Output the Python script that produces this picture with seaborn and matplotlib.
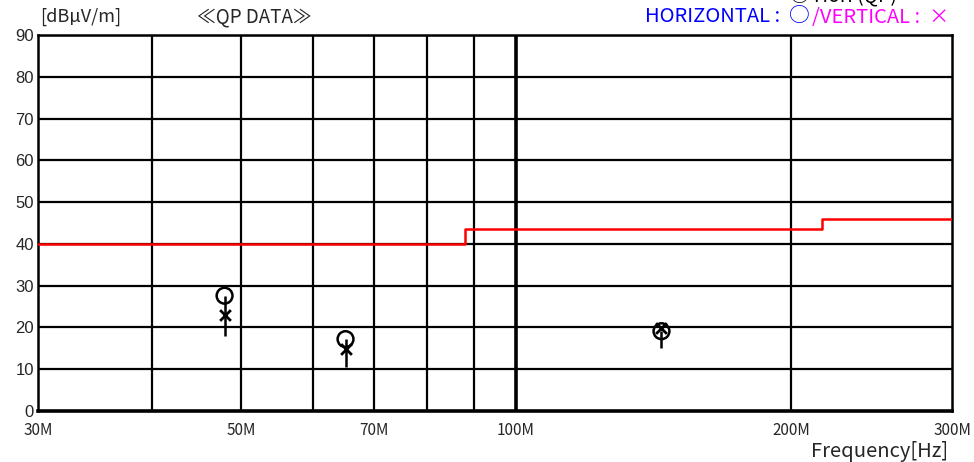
import matplotlib
matplotlib.use("Agg")
import matplotlib.pyplot as plt
import seaborn as sns
import pandas as pd
import numpy as np

# ---- data ----
limit_freq = [30, 88, 216, 300]          # MHz
limit_level = [40.0, 43.5, 46.0, 46.0]   # dBuV/m

peak_freq = [48.0, 65.1, 144.3]          # MHz
horizontal_qp = [27.6, 17.2, 19.1]       # circle
vertical_qp = [23.0, 14.8, 19.9]         # cross
stick_bottom = [18.0, 10.6, 15.1]

xticks = [30, 50, 70, 100, 200, 300]
xtick_labels = ["30M", "50M", "70M", "100M", "200M", "300M"]
xgrid = [40, 50, 60, 70, 80, 90, 200]
yticks = [0, 10, 20, 30, 40, 50, 60, 70, 80, 90]

sns.set_theme(style="white")
plt.rcParams['font.family'] = ['Noto Sans CJK JP', 'DejaVu Sans']

fig = plt.figure(figsize=(9.74, 4.62), dpi=100)
ax = fig.add_axes([38/974, 1-411/462, (952-38)/974, (411-35)/462])

ax.set_xscale("log")
ax.set_xlim(30, 300)
ax.set_ylim(0, 90)

# grid
for y in yticks[1:]:
    ax.axhline(y, color="black", lw=1.6, zorder=1)
for x in xgrid:
    ax.axvline(x, color="black", lw=1.6, zorder=1)
ax.axvline(100, color="black", lw=2.6, zorder=1)

# limit line
lim_df = pd.DataFrame({"f": limit_freq, "l": limit_level})
sns.lineplot(data=lim_df, x="f", y="l", ax=ax, color="#ff0000", lw=1.8,
             drawstyle="steps-post", sort=False, zorder=3)

# sticks and markers
ax.vlines(peak_freq, stick_bottom, horizontal_qp, color="black", lw=1.8, zorder=4)
pk = pd.DataFrame({"f": peak_freq, "h": horizontal_qp, "v": vertical_qp})
sns.scatterplot(data=pk, x="f", y="h", ax=ax, marker="o", s=130,
                facecolor="none", edgecolor="black", linewidth=1.8, zorder=5)
sns.scatterplot(data=pk, x="f", y="v", ax=ax, marker="x", s=60,
                color="black", linewidth=2.0, zorder=5)

ax.set_xlabel("")
ax.set_ylabel("")
ax.set_xticks(xticks)
ax.set_xticklabels(xtick_labels, fontsize=11)
ax.xaxis.set_minor_locator(matplotlib.ticker.NullLocator())
ax.set_yticks(yticks)
ax.set_yticklabels([str(v) for v in yticks], fontsize=12, family="Liberation Sans")
ax.tick_params(axis="x", length=0, pad=8)
ax.tick_params(axis="y", length=0, pad=3)

for s in ax.spines.values():
    s.set_color("black")
    s.set_linewidth(1.8)
ax.spines["bottom"].set_linewidth(2.6)

# texts
fig.text(40/974, 1-17/462, "[dBµV/m]", fontsize=13, va="center", ha="left")
fig.text(197/974, 1-17/462, "≪QP DATA≫", fontsize=13.5, va="center", ha="left")
fig.text(645/974, 1-17/462, "HORIZONTAL :", fontsize=14.5, va="center",
         ha="left", color="#0000ff")
fig.text(789/974, 1-16/462, "○", fontsize=15, va="center",
         ha="left", color="#0000ff")
fig.text(812/974, 1-17/462, "/VERTICAL :  ×", fontsize=14.5, va="center",
         ha="left", color="#ff00ff")
fig.text(948/974, 1-451/462, "Frequency[Hz]", fontsize=14.5, va="center", ha="right")
fig.text(790/974, 1+4/462, "○ Hori (QP)", fontsize=14, va="center", ha="left",
         color="black")

fig.savefig("out.png", dpi=100)
